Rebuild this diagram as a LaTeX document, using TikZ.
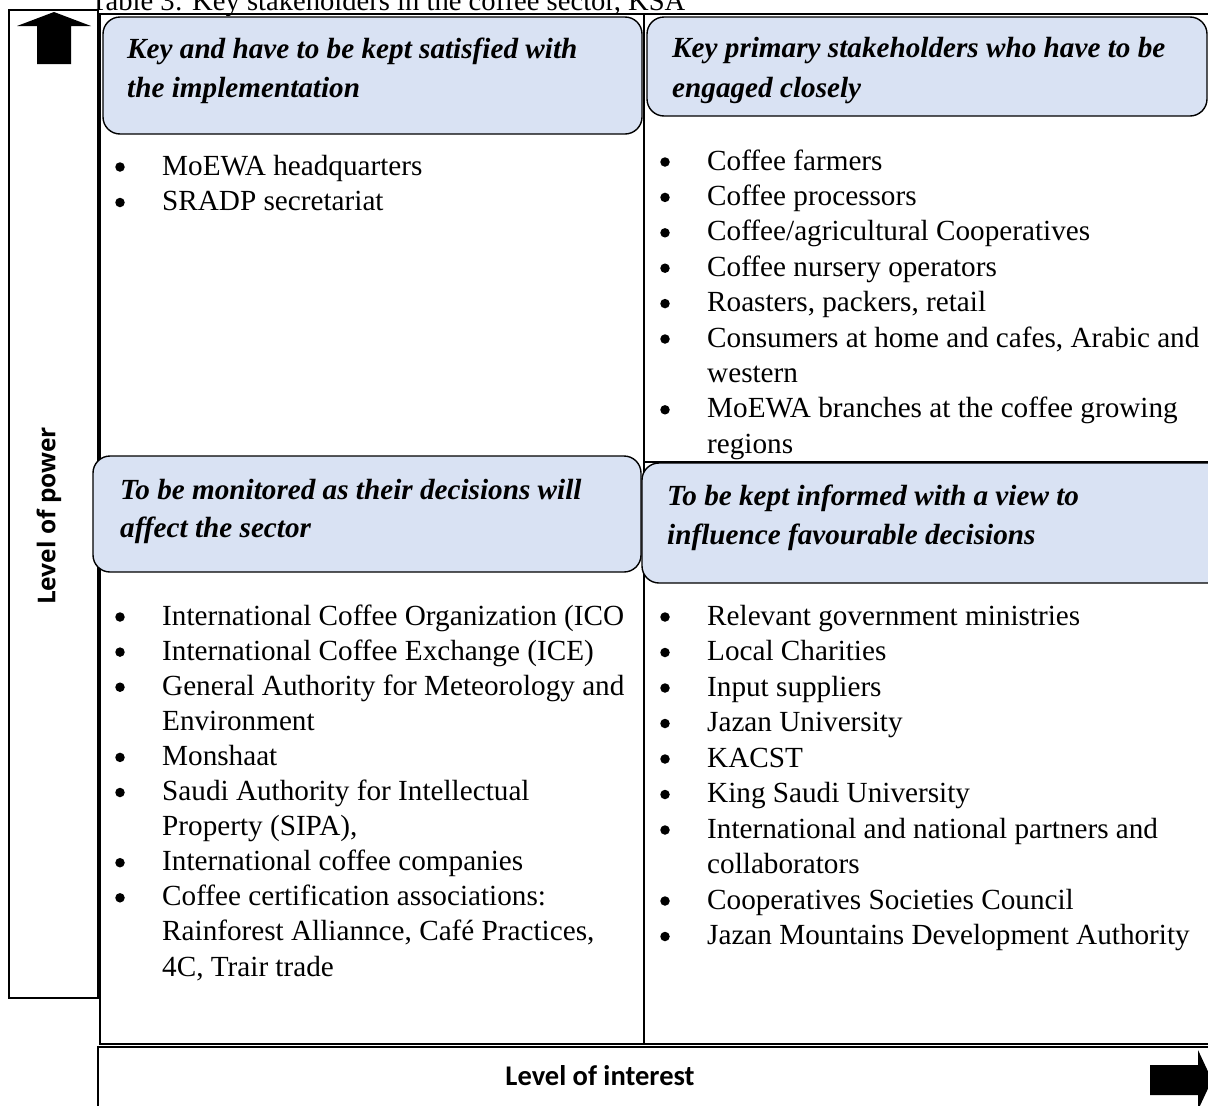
\documentclass[tikz,border=0pt]{standalone}
\usepackage{fontspec}
\setmainfont{Liberation Serif}
\newfontfamily\powerfont{Open Sans}
\newfontfamily\interestfont{Carlito}
\definecolor{hdrfill}{HTML}{D9E2F3}
\newcommand\bitem[4]{\node[bul] (#1b) at (#2-42,#3-8) {}; \node[itm] (#1) at (#2,#3) {#4};}
\newcommand\citem[4]{\node[itm] (#1) at (#2,#3) {#4};}
\begin{document}
\begin{tikzpicture}[x=1pt,y=-1pt,
  hdr/.style={draw=black, line width=1.4pt, fill=hdrfill, rounded corners=17pt},
  hdrtxt/.style={anchor=base west, inner sep=0pt, font=\fontsize{29.2}{39}\selectfont\bfseries\itshape},
  itm/.style={anchor=base west, inner sep=0pt, font=\fontsize{29.2}{35}\selectfont},
  bul/.style={circle, fill=black, inner sep=0pt, minimum size=9.5pt},
  thickln/.style={line width=2.6pt},
  midln/.style={line width=1.8pt},
  thinbox/.style={draw=black, line width=1.5pt},
  blockarrow/.style={fill=black}]
\clip (0,0) rectangle (1208,1106);
\fill[white] (0,0) rectangle (1208,1106);
% title
\node[anchor=base west, inner sep=0pt, font=\fontsize{28.6}{32}\selectfont] (title) at (90,10) {Table 3: Key stakeholders in the coffee sector, KSA};
% left power box
\draw[thinbox] (9,10) rectangle (98,998);
\fill[blockarrow] (54,12) -- (91,26) -- (71,26) -- (71,64) -- (37,64) -- (37,26) -- (17,26) -- cycle;
\node[rotate=90, inner sep=0pt, font=\fontsize{24.5}{28}\selectfont\powerfont\bfseries] (power) at (49,516) {Level of power};
% table frame
\draw[thickln] (1212,14) -- (100,14) -- (100,1044) -- (1212,1044);
\draw[midln] (644,14) -- (644,1044);
\draw[midln] (644,462) -- (1212,462);
% bottom interest box
\draw[thinbox] (1215,1047) -- (98,1047) -- (98,1115);
\node[anchor=base, inner sep=0pt, font=\fontsize{28.5}{32}\selectfont\interestfont\bfseries] (interest) at (600,1085) {Level of interest};
\fill[blockarrow] (1150,1065) -- (1198,1065) -- (1198,1050) -- (1212,1080) -- (1198,1110) -- (1198,1095) -- (1150,1095) -- cycle;
% header boxes
\draw[hdr] (103,17) rectangle (642,134);
\draw[hdr] (647,17) rectangle (1207,116);
\draw[hdr] (93,456) rectangle (641,572);
\draw[hdr] (642,463) rectangle (1225,583);
\node[hdrtxt] (h1a) at (127,58) {Key and have to be kept satisfied with};
\node[hdrtxt] (h1b) at (127,97) {the implementation};
\node[hdrtxt] (h2a) at (672,57) {Key primary stakeholders who have to be};
\node[hdrtxt] (h2b) at (672,97) {engaged closely};
\node[hdrtxt] (h3a) at (120,499) {To be monitored as their decisions will};
\node[hdrtxt] (h3b) at (120,537) {affect the sector};
\node[hdrtxt] (h4a) at (667,505) {To be kept informed with a view to};
\node[hdrtxt] (h4b) at (667,544) {influence favourable decisions};
% top-left items
\bitem{a1}{162}{175}{MoEWA headquarters}
\bitem{a2}{162}{210.5}{SRADP secretariat}
% top-right items
\bitem{b1}{707}{170}{Coffee farmers}
\bitem{b2}{707}{205.4}{Coffee processors}
\bitem{b3}{707}{240.8}{Coffee/agricultural Cooperatives}
\bitem{b4}{707}{276.2}{Coffee nursery operators}
\bitem{b5}{707}{311.6}{Roasters, packers, retail}
\bitem{b6}{707}{347}{Consumers at home and cafes, Arabic and}
\citem{b6c}{707}{382.4}{western}
\bitem{b7}{707}{417.8}{MoEWA branches at the coffee growing}
\citem{b7c}{707}{453.2}{regions}
% bottom-left items
\bitem{c1}{162}{625}{International Coffee Organization (ICO}
\bitem{c2}{162}{660.1}{International Coffee Exchange (ICE)}
\bitem{c3}{162}{695.2}{General Authority for Meteorology and}
\citem{c3c}{162}{730.3}{Environment}
\bitem{c4}{162}{765.4}{Monshaat}
\bitem{c5}{162}{800.5}{Saudi Authority for Intellectual}
\citem{c5c}{162}{835.6}{Property (SIPA),}
\bitem{c6}{162}{870.7}{International coffee companies}
\bitem{c7}{162}{905.8}{Coffee certification associations:}
\citem{c7c}{162}{940.9}{Rainforest Alliannce, Café Practices,}
\citem{c7d}{162}{976}{4C, Trair trade}
% bottom-right items
\bitem{d1}{707}{625}{Relevant government ministries}
\bitem{d2}{707}{660.5}{Local Charities}
\bitem{d3}{707}{696}{Input suppliers}
\bitem{d4}{707}{731.5}{Jazan University}
\bitem{d5}{707}{767}{KACST}
\bitem{d6}{707}{802.5}{King Saudi University}
\bitem{d7}{707}{838}{International and national partners and}
\citem{d7c}{707}{873.5}{collaborators}
\bitem{d8}{707}{909}{Cooperatives Societies Council}
\bitem{d9}{707}{944.5}{Jazan Mountains Development Authority}
\end{tikzpicture}
\end{document}
